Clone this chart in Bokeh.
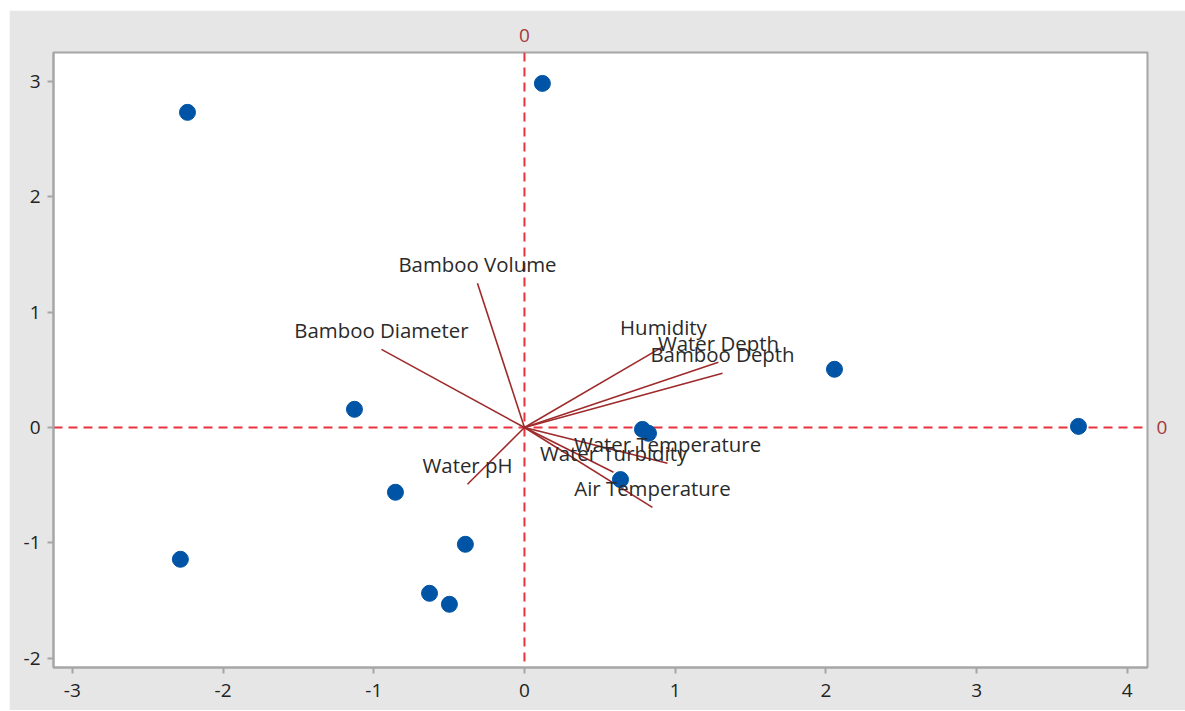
from bokeh.plotting import figure
from bokeh.models import Span, FixedTicker, ColumnDataSource, LinearAxis
from bokeh.core.properties import value
from bokeh.embed import file_html
from bokeh.resources import INLINE

# Scores (observations)
score_x = [-2.236, 0.119, 2.057, 3.676, -1.128, 0.783, 0.823, 0.637, -0.856, -0.392, -2.283, -0.630, -0.498]
score_y = [2.732, 2.983, 0.505, 0.010, 0.158, -0.016, -0.050, -0.451, -0.561, -1.012, -1.142, -1.437, -1.532]

# Loadings (variable vectors)
var_names = ["Bamboo Volume", "Bamboo Diameter", "Water pH", "Humidity", "Water Depth",
             "Bamboo Depth", "Water Temperature", "Water Turbidity", "Air Temperature"]
load_x = [-0.312, -0.949, -0.378, 0.922, 1.287, 1.314, 0.949, 0.591, 0.849]
load_y = [1.250, 0.678, -0.492, 0.704, 0.565, 0.470, -0.310, -0.388, -0.692]

x_ticks = [-3, -2, -1, 0, 1, 2, 3, 4]
y_ticks = [-2, -1, 0, 1, 2, 3]
ref_ticks = [0]

FONT = "Open Sans"
p = figure(frame_width=1094, frame_height=615,
           x_range=(-3.125, 4.134), y_range=(-2.08, 3.251),
           output_backend="svg", toolbar_location=None,
           min_border_left=44, min_border_right=38, min_border_top=42, min_border_bottom=43,
           background_fill_color="white", border_fill_color="#e6e6e6")
p.margin = (10, 0, 0, 9)
p.grid.visible = False
p.outline_line_color = "#a6a6a6"
p.outline_line_width = 2

for ax in (p.xaxis[0], p.yaxis[0]):
    ax.axis_line_color = "#a6a6a6"
    ax.axis_line_width = 2
    ax.major_tick_line_color = "#a6a6a6"
    ax.major_tick_line_width = 2
    ax.major_tick_out = 6
    ax.major_tick_in = 0
    ax.minor_tick_line_color = None
    ax.major_label_text_font = FONT
    ax.major_label_text_font_size = "19px"
    ax.major_label_text_color = "#222222"
p.xaxis[0].ticker = FixedTicker(ticks=x_ticks)
p.yaxis[0].ticker = FixedTicker(ticks=y_ticks)
p.xaxis[0].major_label_overrides = {t: str(t) for t in x_ticks}
p.yaxis[0].major_label_overrides = {t: str(t) for t in y_ticks}
p.xaxis[0].major_label_standoff = 10
p.yaxis[0].major_label_standoff = 7

# reference-line labels ("0") on top and right
for loc, standoff in (("above", 5), ("right", 3)):
    ax = LinearAxis(ticker=FixedTicker(ticks=ref_ticks),
                    major_label_overrides={0: "0"})
    ax.axis_line_color = None
    ax.major_tick_line_color = None
    ax.minor_tick_line_color = None
    ax.major_label_text_font = FONT
    ax.major_label_text_font_size = "19px"
    ax.major_label_text_color = "#a33a3a"
    ax.major_label_standoff = standoff
    p.add_layout(ax, loc)

# reference lines at 0
ref_color = "#e8323c"
p.add_layout(Span(location=0, dimension="width", line_color=ref_color, line_dash="9 6",
                  line_width=2, level="underlay"))
p.add_layout(Span(location=0, dimension="height", line_color=ref_color, line_dash="9 6",
                  line_width=2, level="underlay"))

vsrc = ColumnDataSource(dict(x0=[0] * len(load_x), y0=[0] * len(load_y),
                             x1=load_x, y1=load_y, name=var_names))
p.segment(x0="x0", y0="y0", x1="x1", y1="y1", source=vsrc,
          line_color="#9e2a2b", line_width=1.6)

p.scatter(score_x, score_y, marker="circle", size=16, fill_color="#0054a6",
          line_color="#0054a6")

p.text(x="x1", y="y1", text="name", source=vsrc, text_align="center",
       text_baseline="middle", y_offset=-19, text_font=value(FONT),
       text_font_size="20.4px", text_color="#2a2a2a")

open("out.html", "w").write(file_html(p, INLINE))
